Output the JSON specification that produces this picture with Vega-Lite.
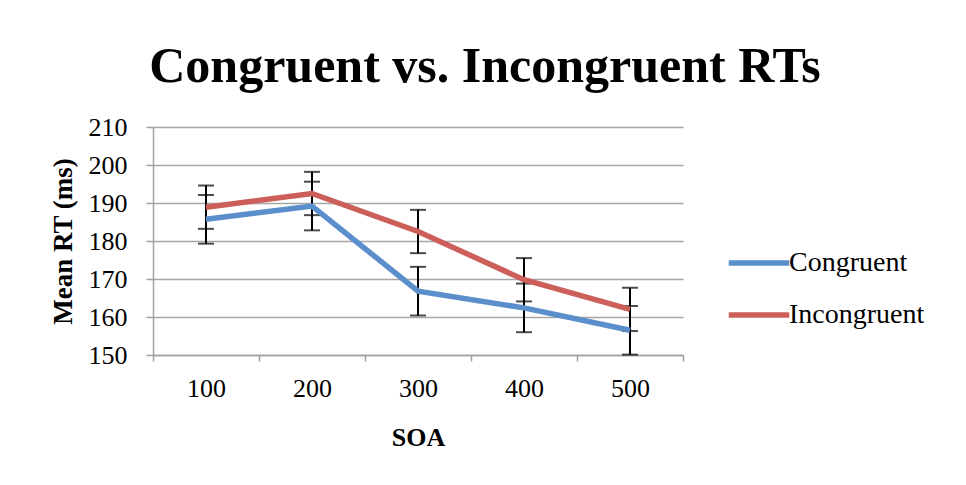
{
  "$schema": "https://vega.github.io/schema/vega-lite/v6.json",
  "width": 530,
  "height": 228,
  "autosize": {"type": "none"},
  "padding": {"left": 153, "top": 127, "right": 283, "bottom": 130},
  "background": "white",
  "config": {
    "font": "Liberation Serif",
    "view": {"stroke": null},
    "axisY": {
      "titleFont": "Liberation Serif",
      "titleFontSize": 27,
      "titleFontWeight": "bold",
      "titleColor": "black",
      "titleX": -90,
      "titleY": 114,
      "titleAngle": -90,
      "titleAlign": "center",
      "titleBaseline": "middle",
      "labelOverlap": false,
      "labelFont": "Liberation Serif",
      "labelFontSize": 26,
      "labelColor": "black",
      "labelPadding": 19,
      "tickSize": 7,
      "tickColor": "#a0a0a0",
      "tickWidth": 1.5,
      "domainColor": "#a0a0a0",
      "domainWidth": 1.5,
      "grid": true,
      "gridColor": "#a6a6a6",
      "gridWidth": 1.5
    }
  },
  "title": {
    "text": "Congruent vs. Incongruent RTs",
    "font": "Liberation Serif",
    "fontSize": 50,
    "fontWeight": "bold",
    "color": "black",
    "anchor": "middle",
    "frame": "group",
    "baseline": "alphabetic",
    "dx": 67,
    "offset": -18
  },
  "data": {
    "values": [
      {"soa": "100", "group": "Congruent", "mean": 185.7, "lo": 179.3, "hi": 192.1},
      {"soa": "200", "group": "Congruent", "mean": 189.2, "lo": 182.8, "hi": 195.6},
      {"soa": "300", "group": "Congruent", "mean": 166.8, "lo": 160.4, "hi": 173.2},
      {"soa": "400", "group": "Congruent", "mean": 162.4, "lo": 156.0, "hi": 168.8},
      {"soa": "500", "group": "Congruent", "mean": 156.5, "lo": 150.1, "hi": 162.9},
      {"soa": "100", "group": "Incongruent", "mean": 188.9, "lo": 183.2, "hi": 194.6},
      {"soa": "200", "group": "Incongruent", "mean": 192.5, "lo": 186.8, "hi": 198.2},
      {"soa": "300", "group": "Incongruent", "mean": 182.5, "lo": 176.8, "hi": 188.2},
      {"soa": "400", "group": "Incongruent", "mean": 169.8, "lo": 164.1, "hi": 175.5},
      {"soa": "500", "group": "Incongruent", "mean": 162.0, "lo": 156.3, "hi": 167.7}
    ]
  },
  "encoding": {
    "x": {
      "field": "soa",
      "type": "ordinal",
      "sort": ["100", "200", "300", "400", "500"],
      "scale": {"type": "band", "paddingInner": 0, "paddingOuter": 0},
      "axis": {
        "title": "SOA",
        "titleFont": "Liberation Serif",
        "titleFontSize": 26,
        "titleFontWeight": "bold",
        "titleColor": "black",
        "titleY": 82,
        "titleBaseline": "middle",
        "labelAngle": 0,
        "labelFont": "Liberation Serif",
        "labelFontSize": 26,
        "labelColor": "black",
        "labelPadding": 14,
        "tickBand": "extent",
        "tickSize": 6,
        "tickColor": "#a0a0a0",
        "tickWidth": 1.5,
        "domainColor": "#a0a0a0",
        "domainWidth": 1.5,
        "grid": false
      }
    }
  },
  "layer": [
    {
      "mark": {"type": "rule", "color": "black", "strokeWidth": 2},
      "encoding": {
        "y": {
          "field": "lo",
          "type": "quantitative",
          "scale": {"domain": [150, 210], "nice": false, "zero": false},
          "axis": {"title": "Mean RT (ms)", "values": [150, 160, 170, 180, 190, 200, 210]}
        },
        "y2": {"field": "hi"}
      }
    },
    {
      "mark": {"type": "tick", "color": "black", "thickness": 2, "size": 16},
      "encoding": {
        "y": {
          "field": "lo",
          "type": "quantitative",
          "scale": {"domain": [150, 210], "nice": false, "zero": false},
          "axis": {"title": "Mean RT (ms)", "values": [150, 160, 170, 180, 190, 200, 210]}
        }
      }
    },
    {
      "mark": {"type": "tick", "color": "black", "thickness": 2, "size": 16},
      "encoding": {
        "y": {
          "field": "hi",
          "type": "quantitative",
          "scale": {"domain": [150, 210], "nice": false, "zero": false},
          "axis": {"title": "Mean RT (ms)", "values": [150, 160, 170, 180, 190, 200, 210]}
        }
      }
    },
    {
      "mark": {"type": "line", "strokeWidth": 5.5},
      "encoding": {
        "y": {
          "field": "mean",
          "type": "quantitative",
          "scale": {"domain": [150, 210], "nice": false, "zero": false},
          "axis": {"title": "Mean RT (ms)", "values": [150, 160, 170, 180, 190, 200, 210]}
        },
        "color": {
          "field": "group",
          "type": "nominal",
          "scale": {"domain": ["Congruent", "Incongruent"], "range": ["#5B8FCB", "#CC5F5A"]},
          "legend": {
            "title": null,
            "orient": "none",
            "legendX": 573,
            "legendY": 103,
            "padding": 0,
            "symbolType": "stroke",
            "symbolSize": 3660,
            "symbolStrokeWidth": 5.5,
            "rowPadding": 5,
            "labelFont": "Liberation Serif",
            "labelFontSize": 28,
            "labelColor": "black",
            "labelOffset": -3
          }
        }
      }
    }
  ]
}
